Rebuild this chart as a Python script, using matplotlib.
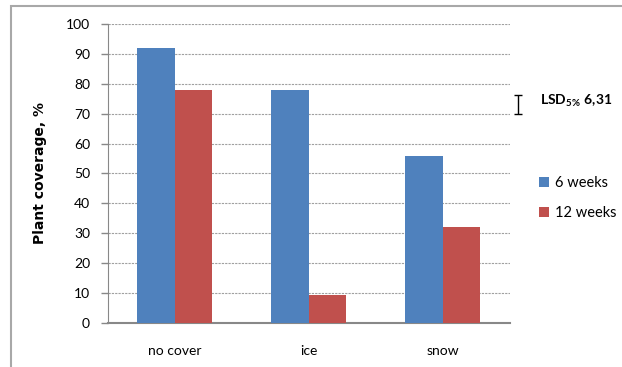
import numpy as np
import matplotlib.pyplot as plt
from matplotlib.patches import Rectangle

plt.rcParams['font.family'] = ['Lato', 'DejaVu Sans']
plt.rcParams['mathtext.fontset'] = 'custom'
plt.rcParams['mathtext.bf'] = 'Lato:bold'
plt.rcParams['mathtext.rm'] = 'Lato'

# Plant coverage per cover type
categories = ['no cover', 'ice', 'snow']
weeks6 = [92, 78, 56]
weeks12 = [78, 9.5, 32]
series_labels = ['6 weeks', '12 weeks']
lsd = 6.31
lsd_center = 73

blue = '#4F81BD'
red = '#C0504D'

fig = plt.figure(figsize=(6.22, 3.67), dpi=100)
ax = fig.add_axes([0.1736, 0.1199, 0.6463, 0.8147])

x = np.arange(len(categories))
w = 0.28
ax.bar(x - w / 2, weeks6, w, color=blue, label=series_labels[0], zorder=3)
ax.bar(x + w / 2, weeks12, w, color=red, label=series_labels[1], zorder=3)

ax.set_xlim(-0.5, 2.5)
ax.set_ylim(0, 100)
ax.set_yticks(range(0, 101, 10))
ax.set_xticks(x)
ax.set_xticklabels(categories, fontsize=10)
ax.tick_params(axis='x', length=0, pad=16)
ax.tick_params(axis='y', length=5, width=1, color='#888888', labelsize=10, pad=8)
ax.yaxis.grid(True, linestyle=(0, (2, 1)), color='#a0a0a0', linewidth=0.8, zorder=0)

for s in ['top', 'right']:
    ax.spines[s].set_visible(False)
ax.spines['left'].set_color('#888888')
ax.spines['bottom'].set_color('#888888')
ax.spines['bottom'].set_linewidth(1.5)

ax.set_ylabel('Plant coverage, %', fontsize=10, fontweight='bold', family='DejaVu Sans')
ax.yaxis.set_label_coords(-0.152, 0.5)

# LSD bar drawn to the right of the plot area
ax.errorbar(2.56, lsd_center, yerr=lsd / 2, fmt='none', ecolor='black',
            elinewidth=1, capsize=3, capthick=1, clip_on=False)
fig.text(0.868, 0.725, r'$\mathbf{LSD_{5\%}\ 6{,}31}$', fontsize=10, va='center')

ax.legend(loc='upper left', bbox_to_anchor=(0.845, 0.555), bbox_transform=fig.transFigure,
          frameon=False, fontsize=10.5, handlelength=0.7, handleheight=0.7,
          handletextpad=0.4, labelspacing=1.05)

# chart border
fig.patches.append(Rectangle((11 / 622, -0.1), 1.2, 1 - 6 / 367 + 0.1, transform=fig.transFigure,
                             fill=False, edgecolor='#a8a8a8', linewidth=1.5))

fig.savefig('out.png', dpi=100)
